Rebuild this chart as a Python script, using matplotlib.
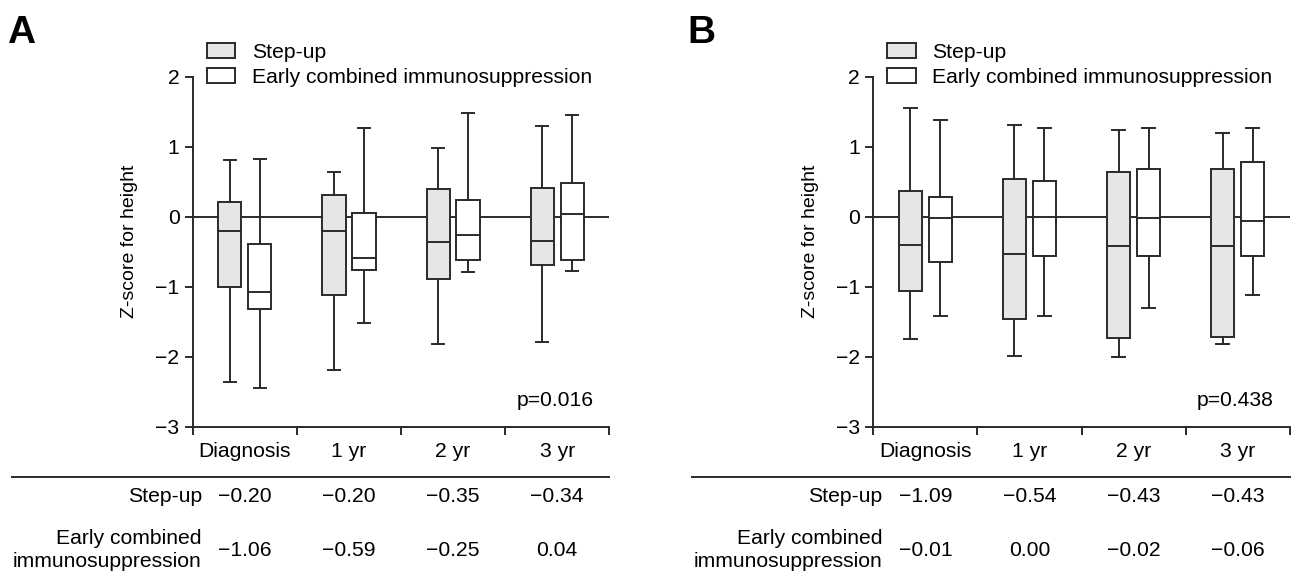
import matplotlib
matplotlib.use('Agg')
import matplotlib.pyplot as plt
import matplotlib.transforms as mtransforms
from matplotlib.patches import Patch
from matplotlib.lines import Line2D

plt.rcParams['font.family'] = ['Liberation Sans', 'DejaVu Sans']

categories = ['Diagnosis', '1 yr', '2 yr', '3 yr']
groups = ['Step-up', 'Early combined immunosuppression']

# panel A box stats
a_step_whislo = [-2.35, -2.18, -1.81, -1.79]
a_step_q1 = [-1.00, -1.11, -0.88, -0.68]
a_step_med = [-0.20, -0.20, -0.36, -0.34]
a_step_q3 = [0.22, 0.32, 0.40, 0.42]
a_step_whishi = [0.82, 0.65, 0.99, 1.30]

a_early_whislo = [-2.44, -1.52, -0.79, -0.77]
a_early_q1 = [-1.31, -0.75, -0.61, -0.62]
a_early_med = [-1.07, -0.59, -0.25, 0.04]
a_early_q3 = [-0.39, 0.06, 0.24, 0.48]
a_early_whishi = [0.83, 1.27, 1.48, 1.46]

# panel B box stats
b_step_whislo = [-1.74, -1.98, -2.00, -1.82]
b_step_q1 = [-1.06, -1.45, -1.73, -1.71]
b_step_med = [-0.40, -0.53, -0.41, -0.42]
b_step_q3 = [0.37, 0.54, 0.64, 0.69]
b_step_whishi = [1.56, 1.31, 1.25, 1.20]

b_early_whislo = [-1.42, -1.42, -1.30, -1.12]
b_early_q1 = [-0.64, -0.55, -0.55, -0.55]
b_early_med = [-0.01, 0.00, -0.02, -0.06]
b_early_q3 = [0.28, 0.51, 0.69, 0.78]
b_early_whishi = [1.39, 1.27, 1.27, 1.27]

# medians printed in the table under each panel
a_table_step = ['\u22120.20', '\u22120.20', '\u22120.35', '\u22120.34']
a_table_early = ['\u22121.06', '\u22120.59', '\u22120.25', '0.04']
b_table_step = ['\u22121.09', '\u22120.54', '\u22120.43', '\u22120.43']
b_table_early = ['\u22120.01', '0.00', '\u22120.02', '\u22120.06']

a_pvalue = 'p=0.016'
b_pvalue = 'p=0.438'

FS = 15.2
LINE = '#2a2a2a'
GREY = '#e5e6e7'
LW = 1.4

W, H = 1291, 578
fig = plt.figure(figsize=(W / 100, H / 100), dpi=100)


def make_stats(lo, q1, med, q3, hi):
    return [dict(whislo=lo[i], q1=q1[i], med=med[i], q3=q3[i], whishi=hi[i],
                 fliers=[]) for i in range(len(med))]


def draw_panel(left_px, table_left_px, letter, step, early, tab_step, tab_early, ptext):
    ax = fig.add_axes([left_px / W, 1 - 427 / H, 416.5 / W, 350 / H])
    centers = [i + 0.5 for i in range(len(categories))]
    off, bw = 0.144, 0.223
    for stats, dx, face in [(make_stats(*step), -off, GREY),
                            (make_stats(*early), off, 'white')]:
        ax.bxp(stats, positions=[c + dx for c in centers], widths=bw,
               capwidths=0.12, showfliers=False, patch_artist=True,
               boxprops=dict(facecolor=face, edgecolor=LINE, linewidth=LW),
               medianprops=dict(color=LINE, linewidth=LW),
               whiskerprops=dict(color=LINE, linewidth=LW),
               capprops=dict(color=LINE, linewidth=LW), zorder=3)
    ax.axhline(0, color=LINE, linewidth=LW, zorder=2)

    ax.set_xlim(0, len(categories))
    ax.set_ylim(-3, 2)
    ax.set_yticks([-3, -2, -1, 0, 1, 2])
    ax.set_xticks(range(len(categories) + 1))
    ax.set_xticklabels([])
    ax.set_xticks(centers, minor=True)
    ax.set_xticklabels(categories, minor=True, fontsize=FS)
    ax.tick_params(axis='x', which='minor', length=0, pad=10.5)
    ax.tick_params(axis='both', which='major', direction='out', length=6,
                   width=LW, color=LINE, labelsize=FS, pad=3.5)
    for s in ['top', 'right']:
        ax.spines[s].set_visible(False)
    for s in ['left', 'bottom']:
        ax.spines[s].set_linewidth(LW)
        ax.spines[s].set_color(LINE)
    ax.set_ylabel('Z-score for height', fontsize=14)
    ax.yaxis.set_label_coords(-0.131, 0.53)

    ax.text(0.962, 0.077, ptext, transform=ax.transAxes, ha='right',
            va='center', fontsize=FS)

    handles = [Patch(facecolor=GREY, edgecolor=LINE, linewidth=LW),
               Patch(facecolor='white', edgecolor=LINE, linewidth=LW)]
    ax.legend(handles, groups, loc='upper left', bbox_to_anchor=(0.034, 1.098),
              frameon=False, fontsize=FS, handlelength=1.35, handleheight=0.72,
              handletextpad=0.78, labelspacing=0.31, borderpad=0,
              borderaxespad=0)

    # panel letter
    fig.text(left_px / W - 186 / W, 1 - 43 / H, letter, fontsize=28,
             fontweight='bold', ha='left', va='baseline')

    # table under the axis
    axis_right = (left_px + 416.5) / W
    fig.add_artist(Line2D([table_left_px / W, axis_right], [1 - 476.5 / H] * 2,
                          color=LINE, linewidth=LW))
    tr = mtransforms.blended_transform_factory(ax.transData, fig.transFigure)
    y1, y2 = 1 - 496.5 / H, 1 - 551 / H
    fig.text(0.087, y1, 'Step-up', transform=tr, ha='right', va='center',
             fontsize=FS)
    fig.text(0.087, 1 - 550 / H, 'Early combined\nimmunosuppression', transform=tr,
             ha='right', va='center', fontsize=FS, linespacing=1.3)
    for c, s, e in zip(centers, tab_step, tab_early):
        fig.text(c, y1, s, transform=tr, ha='center', va='center', fontsize=FS)
        fig.text(c, y2, e, transform=tr, ha='center', va='center', fontsize=FS)
    return ax


draw_panel(192.8, 12, 'A',
           (a_step_whislo, a_step_q1, a_step_med, a_step_q3, a_step_whishi),
           (a_early_whislo, a_early_q1, a_early_med, a_early_q3, a_early_whishi),
           a_table_step, a_table_early, a_pvalue)
draw_panel(873.3, 692, 'B',
           (b_step_whislo, b_step_q1, b_step_med, b_step_q3, b_step_whishi),
           (b_early_whislo, b_early_q1, b_early_med, b_early_q3, b_early_whishi),
           b_table_step, b_table_early, b_pvalue)

fig.savefig('out.png', dpi=100)
